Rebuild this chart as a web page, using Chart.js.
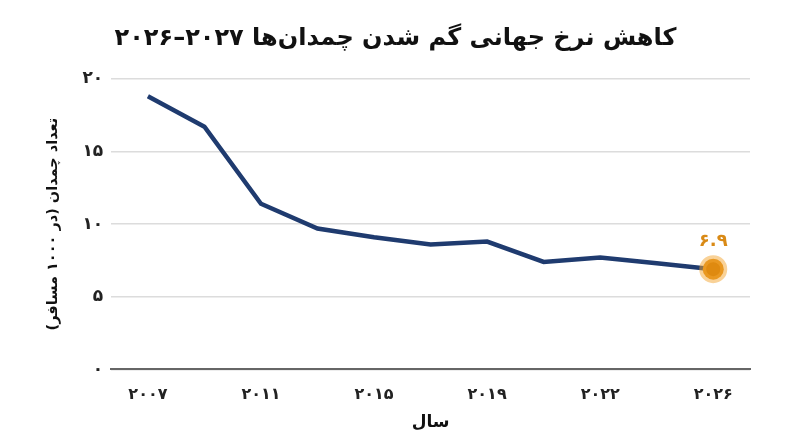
<!DOCTYPE html>
<html>
<head>
<meta charset="utf-8">
<script src="https://cdn.jsdelivr.net/npm/chart.js@4"></script>
<style>
  html, body { margin: 0; padding: 0; background: #fff; }
  #wrap { width: 800px; height: 447px; }
</style>
</head>
<body>
<div id="wrap"><canvas id="chart" dir="rtl"></canvas></div>
<script>
const years = [2007, 2009, 2011, 2013, 2015, 2017, 2019, 2021, 2022, 2024, 2026];
const lostBags = [18.8, 16.7, 11.4, 9.7, 9.1, 8.6, 8.8, 7.4, 7.7, 7.3, 6.9];
const labelledYears = [0, 2, 4, 6, 8, 10]; // indexes shown on the x axis
const yTicks = [0, 5, 10, 15, 20];

const FONT = "'DejaVu Sans', sans-serif";
const faDigits = '۰۱۲۳۴۵۶۷۸۹';
const toFa = v => String(v).replace(/[0-9]/g, d => faDigits[d]);

const last = lostBags.length - 1;

// value label over the highlighted last point
const lastLabel = {
  id: 'lastLabel',
  afterDatasetsDraw(chart) {
    const pt = chart.getDatasetMeta(0).data[last];
    const ctx = chart.ctx;
    ctx.save();
    ctx.font = 'bold 18px ' + FONT;
    ctx.fillStyle = '#d98a16';
    ctx.textAlign = 'center';
    ctx.textBaseline = 'middle';
    ctx.fillText(toFa(lostBags[last]), pt.x, pt.y - 28);
    ctx.restore();
  }
};

const ctx = document.getElementById('chart').getContext('2d');
new Chart(ctx, {
  type: 'line',
  data: {
    datasets: [{
      data: lostBags.map((v, i) => ({ x: i, y: v })),
      borderColor: '#1f3b6f',
      borderWidth: 4.5,
      tension: 0,
      pointRadius: c => c.dataIndex === last ? 10.5 : 0,
      pointBackgroundColor: '#df8a10',
      pointBorderColor: 'rgba(244,165,50,0.5)',
      pointBorderWidth: 7,
      pointHoverRadius: 0
    }]
  },
  options: {
    responsive: true,
    maintainAspectRatio: false,
    animation: false,
    layout: { padding: { left: 41, right: 50, top: 12, bottom: 10 } },
    plugins: {
      legend: { display: false },
      tooltip: { enabled: false },
      title: {
        display: true,
        text: 'کاهش نرخ جهانی گم شدن چمدان‌ها ۲۰۲۷–۲۰۲۶',
        color: '#111',
        font: { family: FONT, size: 24, weight: 'bold' },
        padding: { top: 12, bottom: 26 }
      }
    },
    scales: {
      x: {
        type: 'linear',
        min: -0.65,
        max: last + 0.65,
        afterBuildTicks: s => { s.ticks = labelledYears.map(i => ({ value: i })); },
        grid: { display: false },
        border: { display: true, color: '#666', width: 2 },
        ticks: {
          color: '#222',
          font: { family: FONT, size: 16, weight: 'bold' },
          padding: 8,
          maxRotation: 0,
          callback: v => toFa(years[v])
        },
        title: {
          display: true,
          text: 'سال',
          color: '#111',
          font: { family: FONT, size: 17, weight: 'bold' },
          padding: { top: 0 }
        }
      },
      y: {
        min: 0,
        max: 20,
        afterBuildTicks: s => { s.ticks = yTicks.map(v => ({ value: v })); },
        grid: { color: '#dcdcdc', lineWidth: 1.5, drawTicks: false },
        border: { display: false },
        ticks: {
          color: '#222',
          font: { family: FONT, size: 17, weight: 'bold' },
          padding: 8,
          callback: v => toFa(v)
        },
        title: {
          display: true,
          text: 'تعداد چمدان (در ۱۰۰۰ مسافر)',
          color: '#111',
          font: { family: FONT, size: 14.5, weight: 'bold' },
          padding: { bottom: 12 }
        }
      }
    }
  },
  plugins: [lastLabel]
});
</script>
</body>
</html>
